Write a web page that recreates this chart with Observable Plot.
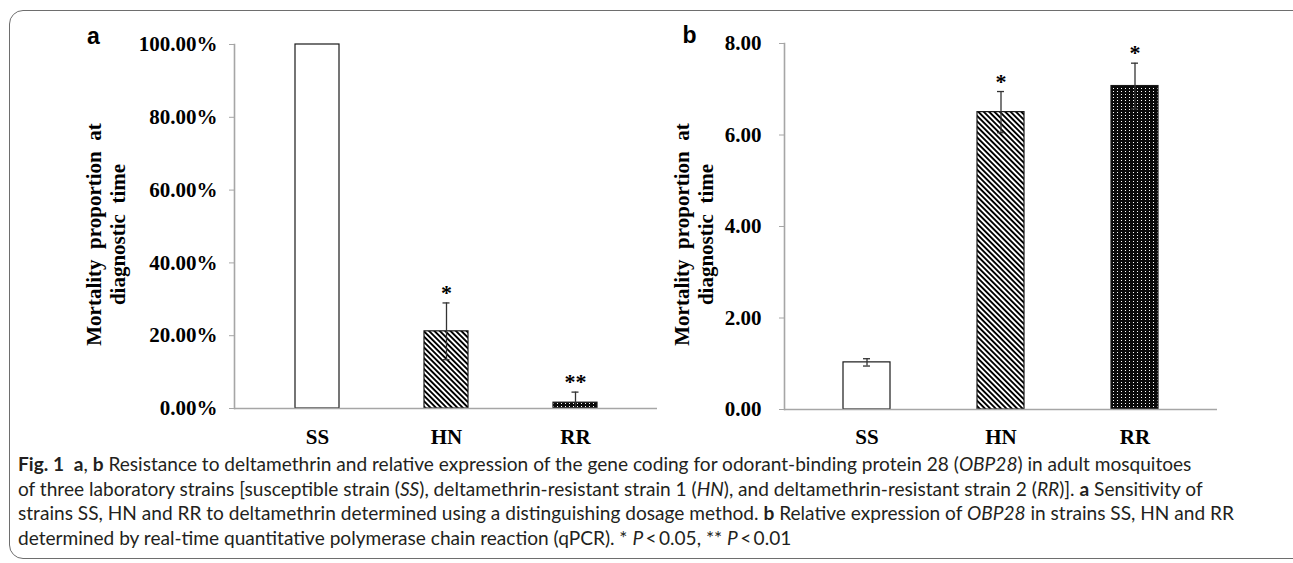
<!DOCTYPE html>
<html>
<head>
<meta charset="utf-8">
<script src="https://cdn.jsdelivr.net/npm/d3@7"></script>
<script src="https://cdn.jsdelivr.net/npm/@observablehq/plot@0.6"></script>
<style>
  html, body { margin: 0; padding: 0; background: #fff; }
  #wrap { position: relative; width: 1293px; height: 563px; overflow: hidden; }
  #border { position: absolute; left: 9px; top: 10px; width: 1300px; height: 549px;
            border: 1.5px solid #6e6e6e; border-radius: 14px; box-sizing: border-box; }
  .panel { position: absolute; left: 0; top: 0; }
  .panel svg { overflow: visible; }
  .panel g[aria-label="y-axis tick"] { color: #a6a6a6; }
  .panel g.panel-label text { font-family: "Liberation Sans", Arial, sans-serif; }
  #caption { position: absolute; left: 18px; top: 452px; font-family: Lato, sans-serif;
             font-size: 19.1px; line-height: 24.5px; color: #231f20; white-space: nowrap; }
</style>
</head>
<body>
<svg width="0" height="0" style="position:absolute">
  <defs>
    <pattern id="hatch" patternUnits="userSpaceOnUse" width="3.8" height="3.8" patternTransform="rotate(-45)">
      <rect width="3.8" height="3.8" fill="#fff"></rect>
      <rect width="1.9" height="3.8" fill="#000"></rect>
    </pattern>
    <pattern id="dots" patternUnits="userSpaceOnUse" width="4" height="3">
      <rect width="4" height="3" fill="#0a0a0a"></rect>
      <rect x="1" y="1" width="1" height="1" fill="#fff"></rect>
    </pattern>
  </defs>
</svg>
<div id="wrap">
  <div id="border"></div>
  <div class="panel" id="pa"></div>
  <div class="panel" id="pb"></div>
  <div id="caption">
    <b>Fig. 1</b>&nbsp;&nbsp;<b>a</b>, <b>b</b> Resistance to deltamethrin and relative expression of the gene coding for odorant-binding protein 28 (<i>OBP28</i>) in adult mosquitoes<br>
    of three laboratory strains [susceptible strain (<i>SS</i>), deltamethrin-resistant strain 1 (<i>HN</i>), and deltamethrin-resistant strain 2 (<i>RR</i>)]. <b>a</b> Sensitivity of<br>
    strains SS, HN and RR to deltamethrin determined using a distinguishing dosage method. <b>b</b> Relative expression of <i>OBP28</i> in strains SS, HN and RR<br>
    determined by real-time quantitative polymerase chain reaction (qPCR). * <i>P</i>&thinsp;&lt;&thinsp;0.05, ** <i>P</i>&thinsp;&lt;&thinsp;0.01
  </div>
</div>
<script>
// ---- data ----
const strains = ["SS", "HN", "RR"];
const mortality = [1.00, 0.212, 0.016];
const mortalityErr = [0, 0.078, 0.029];
const mortalitySig = ["", "*", "**"];
const expression = [1.03, 6.50, 7.07];
const expressionErr = [0.08, 0.45, 0.50];
const expressionSig = ["", "*", "*"];
const mortalityTicks = [0, 0.2, 0.4, 0.6, 0.8, 1.0];
const expressionTicks = [0, 2, 4, 6, 8];
const yTitle = "Mortality  proportion  at\ndiagnostic  time";
const panelLabels = ["a", "b"];
const barFills = ["#fff", "url(#hatch)", "url(#dots)"];

function panel(o) {
  const rows = strains.map((c, i) => ({cat: c, v: o.values[i], e: o.errs[i], s: o.sigs[i]}));
  const errRows = rows.filter(d => d.e > 0);
  const errStroke = "#333";
  return Plot.plot({
    width: 1293,
    height: 455,
    marginLeft: o.ml,
    marginRight: o.mr,
    marginTop: o.mt,
    marginBottom: o.mb,
    style: {background: "transparent", fontFamily: "'Liberation Serif', 'Times New Roman', serif",
            fontSize: "21px", fontWeight: "bold", color: "#000", overflow: "visible"},
    x: {type: "band", domain: strains, paddingInner: o.pi, paddingOuter: o.po, label: null},
    y: {domain: [0, o.yMax], label: null},
    color: {type: "ordinal", domain: strains, range: barFills},
    marks: [
      Plot.barY(rows, {x: "cat", y: "v", fill: "cat", stroke: "#1a1a1a", strokeWidth: 1.2}),
      Plot.ruleY([0], {stroke: "#a6a6a6", strokeWidth: 1.6}),
      Plot.frame({anchor: "left", stroke: "#a6a6a6", strokeWidth: 1.6}),
      Plot.axisY({ticks: o.ticks, tickFormat: o.fmt, tickSize: 5, tickPadding: o.tp, label: null}),
      Plot.axisX({tickSize: 0, tickPadding: o.xp, label: null}),
      Plot.ruleX(errRows, {x: "cat", y1: d => Math.max(0, d.v - d.e), y2: d => d.v + d.e, stroke: errStroke, strokeWidth: 1.3}),
      Plot.tickY(errRows, {x: "cat", y: d => d.v + d.e, insetLeft: o.cap, insetRight: o.cap, stroke: errStroke, strokeWidth: 1.3}),
      Plot.tickY(errRows.filter(d => d.v - d.e > 0), {x: "cat", y: d => d.v - d.e, insetLeft: o.cap, insetRight: o.cap, stroke: errStroke, strokeWidth: 1.3}),
      Plot.text(errRows.filter(d => d.s), {x: "cat", y: d => d.v + d.e, text: "s", dy: -10, fontSize: 22}),
      Plot.text([yTitle], {frameAnchor: "left", rotate: -90, textAnchor: "middle", lineAnchor: "middle",
        dx: o.titleDx, dy: 8, lineHeight: 1.15, fontSize: 21}),
      Plot.text([o.label], {frameAnchor: "top-left", textAnchor: "middle", lineAnchor: "middle", dx: o.labelDx, dy: -7.5,
        fontFamily: "Liberation Sans, Arial, sans-serif", fontSize: 23, fontWeight: "bold", className: "panel-label"})
    ]
  });
}

document.getElementById("pa").appendChild(panel({
  values: mortality, errs: mortalityErr, sigs: mortalitySig, yMax: 1.0,
  ticks: mortalityTicks, fmt: d => (d * 100).toFixed(2) + "%",
  ml: 234, mr: 1293 - 657, mt: 44, mb: 455 - 408,
  pi: 0.662, po: 0.458, tp: 12, xp: 21, cap: 18.5,
  titleDx: 105 - 234, labelDx: 93 - 234, label: panelLabels[0]
}));

document.getElementById("pb").appendChild(panel({
  values: expression, errs: expressionErr, sigs: expressionSig, yMax: 8,
  ticks: expressionTicks, fmt: d => d.toFixed(2),
  ml: 784, mr: 1293 - 1217, mt: 43, mb: 455 - 409,
  pi: 0.652, po: 0.4335, tp: 18, xp: 20, cap: 20,
  titleDx: 693 - 784, labelDx: 689 - 784, label: panelLabels[1]
}));

// ensure panel letters use the sans face
document.querySelectorAll(".panel svg").forEach(svg => {
  svg.querySelectorAll("text").forEach(t => {
    if (panelLabels.includes(t.textContent)) t.style.fontFamily = "'Liberation Sans', Arial, sans-serif";
  });
});
</script>
</body>
</html>
